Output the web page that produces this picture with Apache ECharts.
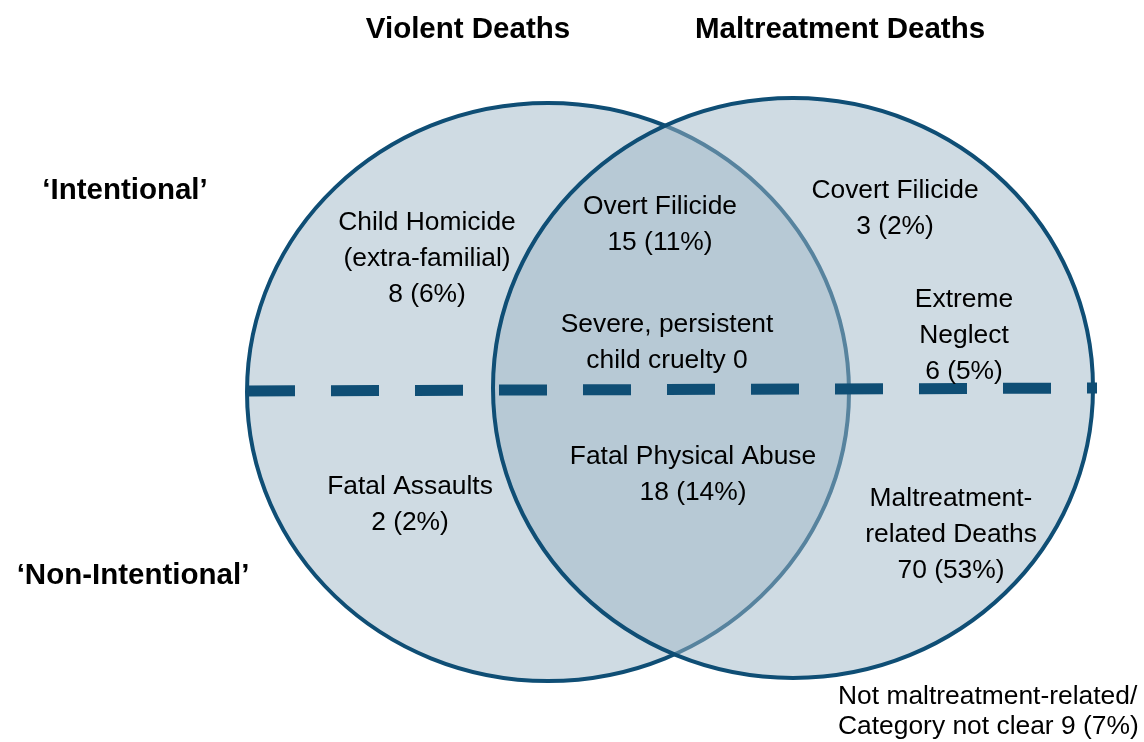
<!DOCTYPE html>
<html>
<head>
<meta charset="utf-8">
<script src="https://cdn.jsdelivr.net/npm/echarts@6/dist/echarts.min.js"></script>
<style>
  html, body { margin: 0; padding: 0; background: #fff; }
  #chart { width: 1144px; height: 742px; }
</style>
</head>
<body>
<div id="chart"></div>
<script>
// sets (circles) in a 1144 x 742 data space
const setNames = ['Violent Deaths', 'Maltreatment Deaths']
const setCenters = [[548, 392], [793, 388]]
const setRadii = [[301, 289], [300, 290]]

const rowNames = ['\u2018Intentional\u2019', '\u2018Non-Intentional\u2019']

// regions: label text, count, percent (null = no percent shown)
const regionNames = [
  'Child Homicide\n(extra-familial)',
  'Overt Filicide',
  'Covert Filicide',
  'Extreme\nNeglect',
  'Severe, persistent\nchild cruelty',
  'Fatal Physical Abuse',
  'Fatal Assaults',
  'Maltreatment-\nrelated Deaths',
  'Not maltreatment-related/\nCategory not clear'
]
const regionCounts = [8, 15, 3, 6, 0, 18, 2, 70, 9]
const regionPercents = [6, 11, 2, 5, null, 14, 2, 53, 7]
const regionPos = [
  [427, 259], [660, 225], [895, 209], [964, 336], [667, 343],
  [693, 475], [410, 505], [951, 535], [838, 712]
]

// divider between intentional / non-intentional
const dividerPoints = [[247, 391], [1097, 388]]

const headerPos = [[468, 30], [840, 30], [125, 191], [133, 576]]

function regionLabel(i) {
  const c = regionCounts[i]
  const p = regionPercents[i]
  if (p === null) return regionNames[i] + ' ' + c
  if (i === regionNames.length - 1) return regionNames[i] + ' ' + c + ' (' + p + '%)'
  return regionNames[i] + '\n' + c + ' (' + p + '%)'
}

const FONT = '"Liberation Sans", Arial, sans-serif'
const chart = echarts.init(document.getElementById('chart'))

chart.setOption({
  animation: false,
  grid: { left: 0, right: 0, top: 0, bottom: 0 },
  xAxis: { type: 'value', min: 0, max: 1144, show: false },
  yAxis: { type: 'value', min: 0, max: 742, inverse: true, show: false },
  series: [
    {
      type: 'custom',
      z: 1,
      data: setCenters.map((c, i) => [c[0], c[1], setRadii[i][0], setRadii[i][1]]),
      encode: { x: 0, y: 1 },
      renderItem: function (params, api) {
        const p = api.coord([api.value(0), api.value(1)])
        const s = api.size([api.value(2), api.value(3)])
        return {
          type: 'ellipse',
          shape: { cx: p[0], cy: p[1], rx: Math.abs(s[0]), ry: Math.abs(s[1]) },
          style: { fill: 'rgba(159,183,199,0.5)', stroke: '#0f4e75', lineWidth: 4 }
        }
      }
    },
    {
      type: 'line',
      z: 2,
      data: dividerPoints,
      symbol: 'none',
      silent: true,
      lineStyle: { color: '#0f4e75', width: 11, type: [48, 36], cap: 'butt' }
    },
    {
      type: 'custom',
      z: 3,
      data: regionPos.map((p, i) => [p[0], p[1], i]),
      encode: { x: 0, y: 1 },
      renderItem: function (params, api) {
        const i = params.dataIndex
        const p = api.coord([api.value(0), api.value(1)])
        const last = i === regionNames.length - 1
        return {
          type: 'text',
          x: p[0],
          y: p[1],
          style: {
            text: regionLabel(i),
            fill: '#000',
            fontSize: 26.4,
            fontFamily: FONT,
            lineHeight: last ? 30 : 36,
            align: last ? 'left' : 'center',
            verticalAlign: 'middle'
          }
        }
      }
    },
    {
      type: 'custom',
      z: 3,
      data: headerPos.map((p, i) => [p[0], p[1], i]),
      encode: { x: 0, y: 1 },
      renderItem: function (params, api) {
        const i = params.dataIndex
        const p = api.coord([api.value(0), api.value(1)])
        const names = setNames.concat(rowNames)
        return {
          type: 'text',
          x: p[0],
          y: p[1],
          style: {
            text: names[i],
            fill: '#000',
            fontSize: 29.5,
            fontWeight: 'bold',
            fontFamily: FONT,
            align: 'center',
            verticalAlign: 'middle'
          }
        }
      }
    }
  ]
})
</script>
</body>
</html>
